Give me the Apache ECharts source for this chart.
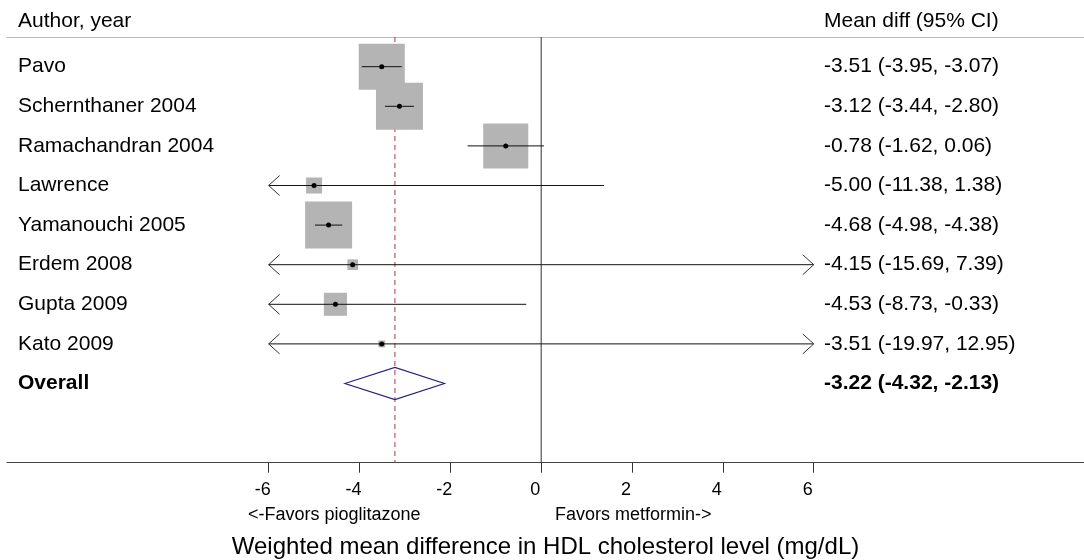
<!DOCTYPE html>
<html>
<head>
<meta charset="utf-8">
<script src="https://cdn.jsdelivr.net/npm/echarts@6/dist/echarts.min.js"></script>
<style>
html,body{margin:0;padding:0;background:#fff;}
#chart{width:1084px;height:560px;}
</style>
</head>
<body>
<div id="chart"></div>
<script>
// ---------- data ----------
const studies = ['Pavo', 'Schernthaner 2004', 'Ramachandran 2004', 'Lawrence', 'Yamanouchi 2005', 'Erdem 2008', 'Gupta 2009', 'Kato 2009'];
const meanDiff = [-3.51, -3.12, -0.78, -5.00, -4.68, -4.15, -4.53, -3.51];
const ciLower  = [-3.95, -3.44, -1.62, -11.38, -4.98, -15.69, -8.73, -19.97];
const ciUpper  = [-3.07, -2.80, 0.06, 1.38, -4.38, 7.39, -0.33, 12.95];
const weights  = [22.3, 23.2, 21.3, 2.7, 23.2, 1.2, 5.6, 0.5];   // % weight (box area)
const overallLabel = 'Overall';
const overall = [-3.22, -4.32, -2.13];   // estimate, lower, upper
const xTicks = [-6, -4, -2, 0, 2, 4, 6];
const headerLeft = 'Author, year';
const headerRight = 'Mean diff (95% CI)';
const favorsLeft = '<-Favors pioglitazone';
const favorsRight = 'Favors metformin->';
const axisTitle = 'Weighted mean difference in HDL cholesterol level (mg/dL)';

// ---------- layout/style ----------
const FONT = '"Liberation Sans", Arial, Helvetica, sans-serif';
const ROW_FS = 21;
const CLIP_MIN = -6, CLIP_MAX = 6;
const BOX_K = 9.76;
const fmt = v => v.toFixed(2);
const ciText = (e, l, u) => fmt(e) + ' (' + fmt(l) + ', ' + fmt(u) + ')';

const studyData = studies.map((s, i) => [meanDiff[i], ciLower[i], ciUpper[i], weights[i], i + 1]);
const overallRow = studies.length + 1;

const chart = echarts.init(document.getElementById('chart'), null, {renderer: 'canvas'});

function arrow(x, y, dir) {
  return {
    type: 'polyline',
    shape: {points: [[x - dir * 11, y - 10], [x, y], [x - dir * 11, y + 10]]},
    style: {stroke: '#333', lineWidth: 1, fill: null}
  };
}

const option = {
  backgroundColor: '#fff',
  animation: false,
  grid: {left: 7, right: 0, top: 37, bottom: 97.3, containLabel: false, outerBoundsMode: 'none'},
  xAxis: [{
    type: 'value', min: -11.76, max: 11.95, position: 'bottom',
    axisLine: {show: true, lineStyle: {color: '#444', width: 1.2}},
    axisTick: {show: true, customValues: xTicks, length: 10, lineStyle: {color: '#333', width: 1}},
    axisLabel: {
      show: true, customValues: xTicks, margin: 18,
      formatter: v => '{a|' + v + '}',
      rich: {a: {fontSize: 18, fontFamily: FONT, color: '#000', padding: [0, 12, 0, 0]}}
    },
    splitLine: {show: false},
    name: axisTitle, nameLocation: 'middle', nameGap: 73,
    nameTextStyle: {fontSize: 24, fontFamily: FONT, color: '#000'}
  }, {
    type: 'value', min: -11.76, max: 11.95, position: 'top',
    axisLine: {show: true, lineStyle: {color: '#bbb', width: 1}},
    axisTick: {show: false}, axisLabel: {show: false}, splitLine: {show: false}
  }],
  yAxis: {type: 'value', inverse: true, min: 0.25, max: 11, show: false},
  graphic: [
    {type: 'text', x: 18, y: 21.5, style: {text: headerLeft, font: ROW_FS + 'px ' + FONT, fill: '#000', verticalAlign: 'middle'}},
    {type: 'text', x: 824, y: 21.5, style: {text: headerRight, font: ROW_FS + 'px ' + FONT, fill: '#000', verticalAlign: 'middle'}},
    {type: 'text', x: 248, y: 515, style: {text: favorsLeft, font: '18px ' + FONT, fill: '#000', verticalAlign: 'middle'}},
    {type: 'text', x: 555, y: 515, style: {text: favorsRight, font: '18px ' + FONT, fill: '#000', verticalAlign: 'middle'}}
  ],
  series: [
    { // reference lines
      type: 'custom', coordinateSystem: 'cartesian2d', z: 1, silent: true,
      data: [[0, 0], [overall[0], 1]],
      renderItem: function (params, api) {
        const x = api.value(0);
        const p1 = api.coord([x, 0.25]);
        const p2 = api.coord([x, 11]);
        const isRef = api.value(1) === 1;
        return {
          type: 'line',
          shape: {x1: p1[0], y1: p1[1], x2: p2[0], y2: p2[1]},
          style: isRef ? {stroke: '#b8333d', lineWidth: 1, lineDash: [5, 4]} : {stroke: '#333', lineWidth: 1}
        };
      }
    },
    { // studies
      type: 'custom', coordinateSystem: 'cartesian2d', z: 2, silent: true,
      data: studyData,
      renderItem: function (params, api) {
        const est = api.value(0), lo = api.value(1), hi = api.value(2), w = api.value(3), row = api.value(4);
        const c = api.coord([est, row]);
        const a = api.coord([Math.max(lo, CLIP_MIN), row]);
        const b = api.coord([Math.min(hi, CLIP_MAX), row]);
        const s = BOX_K * Math.sqrt(w);
        const idx = params.dataIndex;
        const children = [
          {type: 'rect', shape: {x: c[0] - s / 2, y: c[1] - s / 2, width: s, height: s}, style: {fill: '#b4b4b4'}},
          {type: 'line', shape: {x1: a[0], y1: a[1], x2: b[0], y2: b[1]}, style: {stroke: '#111', lineWidth: 1}},
          {type: 'circle', shape: {cx: c[0], cy: c[1], r: 2.5}, style: {fill: '#000'}},
          {type: 'text', style: {x: 18, y: c[1], text: studies[idx], font: ROW_FS + 'px ' + FONT, fill: '#000', verticalAlign: 'middle'}},
          {type: 'text', style: {x: 824, y: c[1], text: ciText(est, lo, hi), font: ROW_FS + 'px ' + FONT, fill: '#000', verticalAlign: 'middle'}}
        ];
        if (lo < CLIP_MIN) children.push(arrow(a[0], a[1], -1));
        if (hi > CLIP_MAX) children.push(arrow(b[0], b[1], 1));
        return {type: 'group', children: children};
      }
    },
    { // overall
      type: 'custom', coordinateSystem: 'cartesian2d', z: 3, silent: true,
      data: [[overall[0], overall[1], overall[2], overallRow]],
      renderItem: function (params, api) {
        const est = api.value(0), lo = api.value(1), hi = api.value(2), row = api.value(3);
        const c = api.coord([est, row]);
        const l = api.coord([lo, row]);
        const r = api.coord([hi, row]);
        const h = 16;
        return {type: 'group', children: [
          {type: 'polygon', shape: {points: [[l[0], l[1]], [c[0], c[1] - h], [r[0], r[1]], [c[0], c[1] + h]]},
           style: {fill: null, stroke: '#22228a', lineWidth: 1.2}},
          {type: 'text', style: {x: 18, y: c[1], text: overallLabel, font: 'bold ' + ROW_FS + 'px ' + FONT, fill: '#000', verticalAlign: 'middle'}},
          {type: 'text', style: {x: 824, y: c[1], text: ciText(est, lo, hi), font: 'bold ' + ROW_FS + 'px ' + FONT, fill: '#000', verticalAlign: 'middle'}}
        ]};
      }
    }
  ]
};
chart.setOption(option);
</script>
</body>
</html>
